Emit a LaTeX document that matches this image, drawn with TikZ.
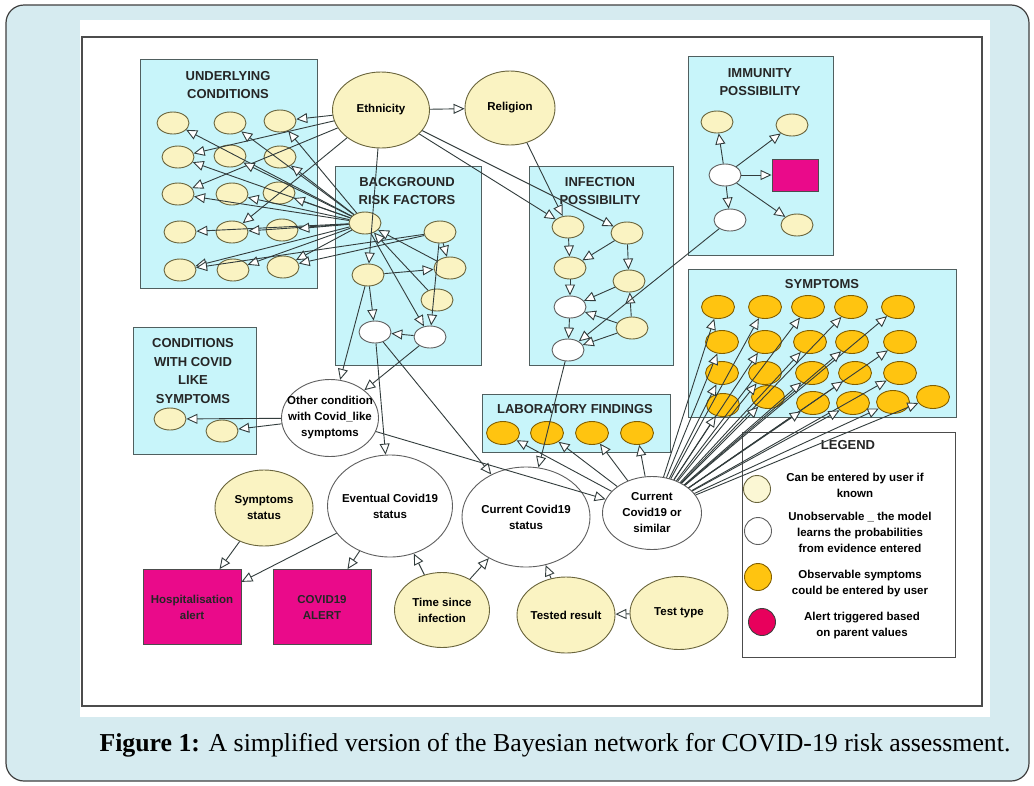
\documentclass[tikz,border=0pt]{standalone}
\usepackage{fontspec}
\setmainfont{Liberation Serif}
\setsansfont{Liberation Sans}
\usetikzlibrary{arrows.meta,shapes.geometric,positioning}

\definecolor{pagebg}{RGB}{214,235,240}
\definecolor{boxfill}{RGB}{200,245,250}
\definecolor{boxline}{RGB}{80,95,95}
\definecolor{knownfill}{RGB}{250,243,194}
\definecolor{knownline}{RGB}{105,100,60}
\definecolor{obsfill}{RGB}{255,196,16}
\definecolor{obsline}{RGB}{130,95,0}
\definecolor{alertfill}{RGB}{234,10,138}
\definecolor{alertdot}{RGB}{232,0,92}
\definecolor{hidline}{RGB}{95,95,95}
\definecolor{linkc}{RGB}{50,60,60}

\tikzset{
  lbl/.style={font=\sffamily\bfseries\fontsize{11.5}{16}\selectfont, align=center},
  txt/.style={label={[lbl]center:#1}},
  known/.style={ellipse, draw=knownline, fill=knownfill, line width=0.9pt,
    minimum width=32pt, minimum height=22pt, inner sep=0pt},
  hidden/.style={ellipse, draw=hidline, fill=white, line width=0.9pt,
    minimum width=32pt, minimum height=22pt, inner sep=0pt},
  obs/.style={ellipse, draw=obsline, fill=obsfill, line width=0.9pt,
    minimum width=33pt, minimum height=23pt, inner sep=0pt},
  alarm/.style={rectangle, draw=black!70, fill=alertfill, line width=0.9pt,
    inner sep=0pt, lbl, text=black!85},
  group/.style={draw=boxline, fill=boxfill, line width=1pt},
  grouptitle/.style={font=\sffamily\bfseries\fontsize{13}{18.5}\selectfont,
    align=center, text=black!85},
  keytext/.style={font=\sffamily\bfseries\fontsize{11.5}{16}\selectfont, align=center},
  link/.style={draw=linkc, line width=0.9pt,
    -{Triangle[length=11pt,width=10pt,fill=white]}},
}

\begin{document}
\begin{tikzpicture}[x=1pt,y=-1pt]
  \useasboundingbox (0,0) rectangle (1034,785);
  \fill[white] (0,0) rectangle (1034,785);
  \draw[fill=pagebg, draw=black!75, line width=1.2pt, rounded corners=18pt] (6,5) rectangle (1029,781);
  \fill[white] (80,20) rectangle (990,717);
  \draw[black!70, line width=1.5pt] (82,37) rectangle (982,706);

  % groups
  \draw[group] (140,59) rectangle (317,288);
  \node[grouptitle] (t-under) at (228,85) {UNDERLYING\\CONDITIONS};
  \draw[group] (335,166) rectangle (481,365);
  \node[grouptitle] (t-risk) at (407,191) {BACKGROUND\\RISK FACTORS};
  \draw[group] (529,166) rectangle (673,365);
  \node[grouptitle] (t-inf) at (600,191) {INFECTION\\POSSIBILITY};
  \draw[group] (688,56) rectangle (833,255);
  \node[grouptitle] (t-imm) at (760,82) {IMMUNITY\\POSSIBILITY};
  \draw[group] (133,327) rectangle (256,454);
  \node[grouptitle] (t-cond) at (193,371) {CONDITIONS\\WITH COVID\\LIKE\\SYMPTOMS};
  \draw[group] (688,269) rectangle (956,417);
  \node[grouptitle] (t-sym) at (822,284) {SYMPTOMS};
  \draw[group] (482,394) rectangle (670,452);
  \node[grouptitle] (t-lab) at (575,409) {LABORATORY FINDINGS};

  % legend
  \draw[draw=black!70, fill=white, line width=1pt] (742,432) rectangle (955,657);
  \node[grouptitle] (t-legend) at (848,445) {LEGEND};
  \node[circle, draw=knownline, fill=knownfill!70, line width=0.9pt, minimum size=27pt] (key1) at (757,489) {};
  \node[circle, draw=hidline, fill=white, line width=0.9pt, minimum size=27pt] (key2) at (758,531) {};
  \node[circle, draw=obsline, fill=obsfill, line width=0.9pt, minimum size=27pt] (key3) at (758,577) {};
  \node[circle, draw=black!75, fill=alertdot, line width=0.9pt, minimum size=27pt] (key4) at (762,622) {};
  \node[keytext] (note1) at (855,485) {Can be entered by user if\\known};
  \node[keytext] (note2) at (860,532) {Unobservable \_ the model\\learns the probabilities\\from evidence entered};
  \node[keytext] (note3) at (860,584) {Observable symptoms\\could be entered by user};
  \node[keytext] (note4) at (862,626) {Alert triggered based\\on parent values};

  \node[known, minimum width=97pt, minimum height=76pt, txt=Ethnicity] (eth) at (381,110) {};
  \node[known, minimum width=90pt, minimum height=74pt, txt=Religion] (rel) at (510,108) {};

  \node[known] (u11) at (173,123) {};
  \node[known] (u12) at (230,123) {};
  \node[known] (u13) at (280,121) {};
  \node[known] (u21) at (178,157) {};
  \node[known] (u22) at (230,156) {};
  \node[known] (u23) at (280,157) {};
  \node[known] (u31) at (178,194) {};
  \node[known] (u32) at (232,194) {};
  \node[known] (u33) at (279,193) {};
  \node[known] (u41) at (180,232) {};
  \node[known] (u42) at (232,232) {};
  \node[known] (u43) at (282,230) {};
  \node[known] (u51) at (180,270) {};
  \node[known] (u52) at (233,270) {};
  \node[known] (u53) at (283,267) {};

  \node[known] (rf1) at (365,223) {};
  \node[known] (rf2) at (440,232) {};
  \node[known] (rf3) at (368,275) {};
  \node[known] (rf4) at (450,268) {};
  \node[known] (rf5) at (437,300) {};
  \node[hidden] (rf6) at (375,332) {};
  \node[hidden] (rf7) at (430,337) {};

  \node[known] (ip1) at (568,227) {};
  \node[known] (ip2) at (627,233) {};
  \node[known] (ip3) at (570,268) {};
  \node[known] (ip4) at (629,281) {};
  \node[hidden] (ip5) at (570,307) {};
  \node[known] (ip6) at (632,328) {};
  \node[hidden] (ip7) at (568,350) {};

  \node[known] (im1) at (717,122) {};
  \node[known] (im2) at (792,125) {};
  \node[hidden] (im3) at (725,175) {};
  \node[alarm, minimum width=46pt, minimum height=32pt] (imalert) at (795,175) {};
  \node[hidden] (im4) at (730,220) {};
  \node[known] (im5) at (797,225) {};

  \node[known] (cl1) at (170,419) {};
  \node[known] (cl2) at (222,431) {};

  \node[obs] (lab1) at (503,433) {};
  \node[obs] (lab2) at (547,433) {};
  \node[obs] (lab3) at (592,433) {};
  \node[obs] (lab4) at (637,433) {};

  \node[obs] (s11) at (718,307) {};
  \node[obs] (s12) at (765,307) {};
  \node[obs] (s13) at (808,307) {};
  \node[obs] (s14) at (851,307) {};
  \node[obs] (s15) at (898,307) {};
  \node[obs] (s21) at (722,342) {};
  \node[obs] (s22) at (765,342) {};
  \node[obs] (s23) at (810,342) {};
  \node[obs] (s24) at (852,342) {};
  \node[obs] (s25) at (900,342) {};
  \node[obs] (s31) at (722,373) {};
  \node[obs] (s32) at (765,373) {};
  \node[obs] (s33) at (812,373) {};
  \node[obs] (s34) at (855,373) {};
  \node[obs] (s35) at (900,373) {};
  \node[obs] (s41) at (723,405) {};
  \node[obs] (s42) at (768,397) {};
  \node[obs] (s43) at (813,403) {};
  \node[obs] (s44) at (853,403) {};
  \node[obs] (s45) at (893,402) {};
  \node[obs] (s46) at (933,397) {};

  \node[hidden, minimum width=97pt, minimum height=77pt,
    txt={Other condition\\with Covid\_like\\symptoms}] (other) at (330,418) {};
  \node[known, minimum width=98pt, minimum height=76pt, txt={Symptoms\\status}] (symstat) at (264,508) {};
  \node[hidden, minimum width=125pt, minimum height=102pt, txt={Eventual Covid19\\status}] (eventual) at (390,506) {};
  \node[hidden, minimum width=128pt, minimum height=100pt, txt={Current Covid19\\status}] (curstat) at (526,517) {};
  \node[hidden, minimum width=99pt, minimum height=73pt, txt={Current\\Covid19 or\\similar}] (cursim) at (652,513) {};
  \node[known, minimum width=95pt, minimum height=75pt, txt={Time since\\infection}] (timeinf) at (442,610) {};
  \node[known, minimum width=98pt, minimum height=76pt, txt={Tested result}] (tested) at (566,615) {};
  \node[known, minimum width=98pt, minimum height=73pt, txt={Test type}] (testtype) at (679,613) {};
  \node[alarm, minimum width=98pt, minimum height=75pt] (hosp) at (192,607) {Hospitalisation\\alert};
  \node[alarm, minimum width=98pt, minimum height=75pt] (covalert) at (322,607) {COVID19\\ALERT};

  \path[link]
    (eth) edge (rel)
    (eth) edge (u21)
    (eth) edge (u31)
    (eth) edge (u42)
    (eth) edge (u13)
    (eth) edge (rf3)
    (eth) edge (ip1)
    (eth) edge (ip2)
    (rel) edge (ip1);

  \path[link]
    (rf1) edge (u11) (rf1) edge (u12) (rf1) edge (u13)
    (rf1) edge (u21) (rf1) edge (u22) (rf1) edge (u23)
    (rf1) edge (u31) (rf1) edge (u32) (rf1) edge (u33)
    (rf1) edge (u41) (rf1) edge (u42) (rf1) edge (u43)
    (rf1) edge (u51) (rf1) edge (u52) (rf1) edge (u53)
    (rf2) edge (u51) (rf2) edge (u53);

  \path[link]
    (rf3) edge (rf4)
    (rf2) edge (rf4)
    (rf4) edge (rf1)
    (rf5) edge (rf1)
    (rf1) edge (rf7)
    (rf2) edge (rf7)
    (rf3) edge (rf6)
    (rf7) edge (rf6)
    (rf3) edge (other)
    (rf7) edge (other)
    (rf6) edge (eventual)
    (rf6) edge (curstat);

  \path[link]
    (ip1) edge (ip3)
    (ip2) edge (ip3)
    (ip2) edge (ip4)
    (ip3) edge (ip5)
    (ip4) edge (ip5)
    (ip6) edge (ip5)
    (ip6) edge (ip4)
    (ip5) edge (ip7)
    (ip6) edge (ip7)
    (im4) edge (ip7)
    (ip7) edge (curstat);

  \path[link]
    (im3) edge (im1)
    (im3) edge (im2)
    (im3) edge (imalert)
    (im3) edge (im4)
    (im3) edge (im5);

  \path[link]
    (other) edge (cl1)
    (other) edge (cl2)
    (other) edge (cursim)
    (symstat) edge (hosp)
    (eventual) edge (hosp)
    (eventual) edge (covalert)
    (timeinf) edge (eventual)
    (timeinf) edge (curstat)
    (tested) edge (curstat)
    (testtype) edge (tested);

  \path[link]
    (cursim) edge (lab1) (cursim) edge (lab2)
    (cursim) edge (lab3) (cursim) edge (lab4)
    (cursim) edge (s11) (cursim) edge (s12) (cursim) edge (s13)
    (cursim) edge (s14) (cursim) edge (s15)
    (cursim) edge (s21) (cursim) edge (s22) (cursim) edge (s23)
    (cursim) edge (s24) (cursim) edge (s25)
    (cursim) edge (s31) (cursim) edge (s32) (cursim) edge (s33)
    (cursim) edge (s34) (cursim) edge (s35)
    (cursim) edge (s41) (cursim) edge (s42) (cursim) edge (s43)
    (cursim) edge (s44) (cursim) edge (s45) (cursim) edge (s46);

  \node[font=\fontsize{25.8}{30}\selectfont] (fig) at (555,745)
    {\textbf{Figure 1:} A simplified version of the Bayesian network for COVID-19 risk assessment.};
\end{tikzpicture}
\end{document}
